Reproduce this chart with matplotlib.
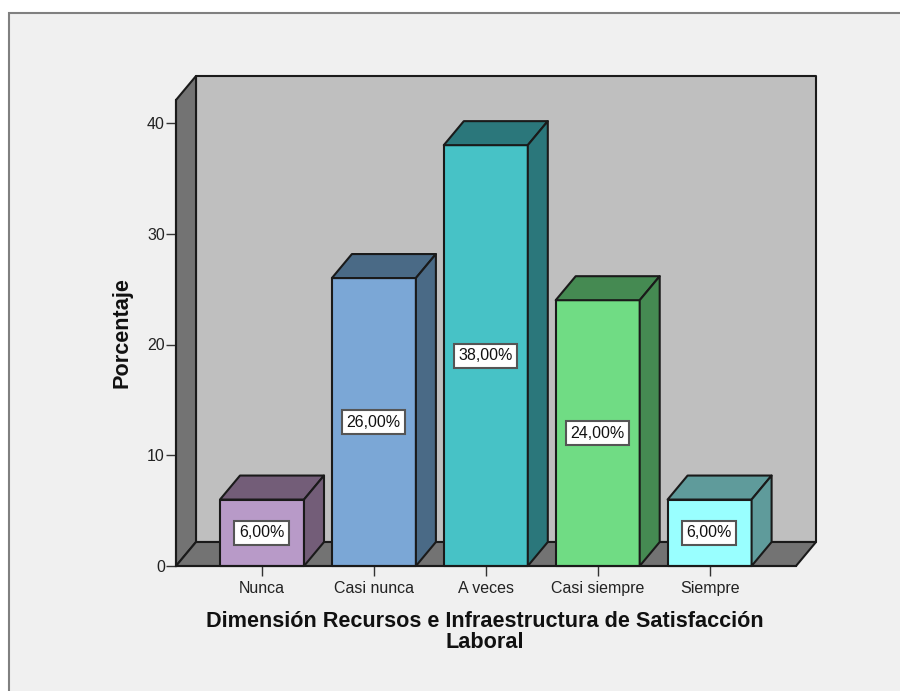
import numpy as np
import matplotlib
matplotlib.use('Agg')
import matplotlib.pyplot as plt
from matplotlib.patches import Polygon, Rectangle

categories = ['Nunca', 'Casi nunca', 'A veces', 'Casi siempre', 'Siempre']
values = [6, 26, 38, 24, 6]
labels = ['6,00%', '26,00%', '38,00%', '24,00%', '6,00%']
yticks = [0, 10, 20, 30, 40]
front_colors = ['#b89ac8', '#7ba7d6', '#47c2c6', '#70dc84', '#99ffff']
dark_colors = ['#735d78', '#4a6a86', '#2b777b', '#458a52', '#5f9b9b']

plt.rcParams['font.family'] = ['Liberation Sans', 'DejaVu Sans']

W, H = 900, 691
fig = plt.figure(figsize=(W / 100, H / 100), dpi=100, facecolor='white')
fig.add_artist(Rectangle((9 / W, -0.1), 1, 1.1 - 13 / H, transform=fig.transFigure,
                         facecolor='#f0f0f0', edgecolor='#808080', linewidth=1.5, zorder=-5))

ax = fig.add_axes([0, 0, 1, 1])
ax.patch.set_visible(False)

# scale: 112 px per category, 11.075 px per percent
px_cat = 111.9
px_val = 11.075
ax.set_xlim((0 - 262) / px_cat, (W - 262) / px_cat)
ax.set_ylim((566 - H) / px_val, 566 / px_val)
ax.set_xticks(range(len(categories)))
ax.set_yticks(yticks)

# 3d depth of the chart
dx = 20 / px_cat
dy = 24 / px_val
left = (176 - 262) / px_cat
right = (796 - 262) / px_cat
top = (566 - 100) / px_val
bw = 84 / px_cat

edge = '#1a1a1a'
def face(pts, color, z=1, lw=1.5):
    ax.add_patch(Polygon(pts, closed=True, facecolor=color, edgecolor=edge,
                         linewidth=lw, joinstyle='round', zorder=z))

# walls and floor
face([(left + dx, dy), (right + dx, dy), (right + dx, top + dy), (left + dx, top + dy)], '#bfbfbf')
face([(left, 0), (left + dx, dy), (left + dx, top + dy), (left, top)], '#737373')
face([(left, 0), (right, 0), (right + dx, dy), (left + dx, dy)], '#737373')

for i, v in enumerate(values):
    x0 = i - bw / 2
    x1 = i + bw / 2
    face([(x0, 0), (x1, 0), (x1, v), (x0, v)], front_colors[i], 2)
    face([(x0, v), (x1, v), (x1 + dx, v + dy), (x0 + dx, v + dy)], dark_colors[i], 2)
    face([(x1, 0), (x1 + dx, dy), (x1 + dx, v + dy), (x1, v)], dark_colors[i], 2)
    ax.text(i - 0.005, v / 2, labels[i], ha='center', va='center', fontsize=11.5, color='#111111', zorder=4,
            bbox=dict(boxstyle='square,pad=0.28', facecolor='white', edgecolor='#555555', linewidth=1.5))

for s in ['top', 'right']:
    ax.spines[s].set_visible(False)
ax.spines['bottom'].set_position(('data', 0))
ax.spines['left'].set_position(('data', left))
ax.spines['bottom'].set_bounds(left, right)
ax.spines['left'].set_bounds(0, top)
ax.spines['bottom'].set_color(edge)
ax.spines['left'].set_color(edge)
ax.spines['bottom'].set_linewidth(1.5)
ax.spines['left'].set_linewidth(1.5)
ax.set_xticklabels(categories)
ax.tick_params(axis='x', length=7, width=1, color='#333333', labelsize=11.5, labelcolor='#222222', pad=3.5)
ax.tick_params(axis='y', length=7, width=1, color='#333333', labelsize=11.5, labelcolor='#222222', pad=1)

ax.text(1.99, (566 - 621.5) / px_val, 'Dimensión Recursos e Infraestructura de Satisfacción',
        ha='center', va='center', fontsize=15.6, fontweight='bold', color='#111111')
ax.text(1.99, (566 - 643) / px_val, 'Laboral',
        ha='center', va='center', fontsize=15.6, fontweight='bold', color='#111111')
ax.text((122 - 262) / px_cat, (566 - 333) / px_val, 'Porcentaje', rotation=90,
        ha='center', va='center', fontsize=15.6, fontweight='bold', color='#111111')

fig.savefig('out.png', dpi=100)
